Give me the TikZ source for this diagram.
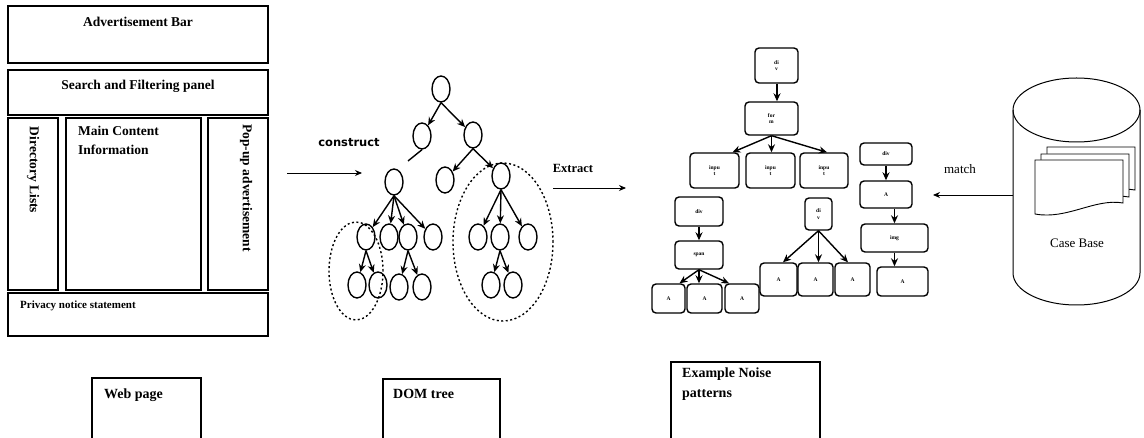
\documentclass[tikz,border=0pt]{standalone}
\usepackage{fontspec}
\setmainfont{Liberation Serif}
\newfontfamily\dvsans{DejaVu Sans}
\usetikzlibrary{arrows.meta,shapes.geometric,calc}
\tikzset{
 panel/.style={draw, line width=1.3pt, inner sep=0pt},
 lab/.style={font=\fontsize{13.5}{19}\selectfont\bfseries, inner sep=0pt},
 tn/.style={draw, ellipse, line width=1.4pt, minimum width=18pt, minimum height=26pt, inner sep=0pt},
 arr/.style={-{Stealth[length=8pt,width=7pt]}, line width=1.4pt},
 thinarr/.style={-{Stealth[length=7pt,width=6pt]}, line width=0.9pt},
 nb/.style={draw, rounded corners=4pt, line width=1.4pt, inner sep=0pt, align=center, font=\fontsize{5.5}{6.5}\selectfont\bfseries},
 grp/.style={draw, ellipse, dash pattern=on 2pt off 2.5pt, line width=1.4pt, inner sep=0pt},
 paper/.style={draw, fill=white, line width=0.9pt},
}
\newcommand{\drawpaper}[2]{%
 \draw[paper] (#1,#2) -- ++(88,0) -- ++(0,43) .. controls ($(#1,#2)+(60,38)$) and ($(#1,#2)+(32,60)$) .. ($(#1,#2)+(0,54)$) -- cycle;}
\begin{document}
\begin{tikzpicture}[x=1pt,y=-1pt]
\useasboundingbox (0,0) rectangle (1144,438);

% ---------------- Web page layout ----------------
\node[panel, minimum width=260pt, minimum height=57pt] (ad) at (138,34.5) {};
\node[lab] (adT) at (138,22) {Advertisement Bar};
\node[panel, minimum width=260pt, minimum height=45pt] (search) at (138,92.5) {};
\node[lab] (searchT) at (138,86) {Search and Filtering panel};
\node[panel, minimum width=50pt, minimum height=172pt] (dir) at (33,204) {};
\node[lab, rotate=-90] (dirT) at (33,170) {Directory Lists};
\node[panel, minimum width=135pt, minimum height=172pt] (main) at (133.5,204) {};
\node[lab, anchor=north west, align=left] (mainT) at (78,126) {Main Content\\Information};
\node[panel, minimum width=60pt, minimum height=172pt] (pop) at (238,204) {};
\node[lab, rotate=-90] (popT) at (246,188) {Pop-up advertisement};
\node[panel, minimum width=260pt, minimum height=43pt] (priv) at (138,314.5) {};
\node[lab, anchor=west, font=\fontsize{11}{12}\selectfont\bfseries] (privT) at (20,306) {Privacy notice statement};

% ---------------- construct arrow ----------------
\coordinate (cs) at (287,173);
\coordinate (ce) at (362,173);
\draw[thinarr] (cs) -- (ce);
\node[font=\dvsans\fontsize{11.5}{13}\selectfont\bfseries, inner sep=0pt] (constructT) at (349,143) {construct};

% ---------------- DOM tree ----------------
\node[tn] (r) at (441,89) {};
\node[tn] (a) at (422,136) {};
\node[tn] (b) at (473,135) {};
\node[tn] (c) at (394,182) {};
\node[tn] (d) at (445,180) {};
\node[tn] (e) at (501,176) {};
\node[tn] (c1) at (366,237) {};
\node[tn] (c2) at (389,237) {};
\node[tn] (c3) at (408,237) {};
\node[tn] (c4) at (433,237) {};
\node[tn] (c11) at (357,285) {};
\node[tn] (c12) at (378,285) {};
\node[tn] (c31) at (399,287) {};
\node[tn] (c32) at (422,287) {};
\node[tn] (e1) at (478,237) {};
\node[tn] (e2) at (500,237) {};
\node[tn] (e3) at (528,237) {};
\node[tn] (e21) at (491,285) {};
\node[tn] (e22) at (513,285) {};
\coordinate (brk) at (408,161);

\draw[arr] (r.south) -- (a);
\draw[arr] (r.south) -- (b);
\draw[line width=1.4pt] (a.south) -- (brk);
\draw[arr] (b.south) -- (d);
\draw[arr] (b.south) -- (e);
\foreach \k in {c1,c2,c3,c4} \draw[arr] (c.south) -- (\k);
\foreach \k in {c11,c12} \draw[arr] (c1.south) -- (\k);
\foreach \k in {c31,c32} \draw[arr] (c3.south) -- (\k);
\foreach \k in {e1,e2,e3} \draw[arr] (e.south) -- (\k);
\foreach \k in {e21,e22} \draw[arr] (e2.south) -- (\k);

\node[grp, minimum width=54pt, minimum height=98pt] (gl) at (356,271) {};
\node[grp, minimum width=100pt, minimum height=158pt] (gr) at (503,242) {};

% ---------------- Extract arrow ----------------
\coordinate (xs) at (553,188);
\coordinate (xe) at (626,188);
\draw[thinarr] (xs) -- (xe);
\node[lab, font=\fontsize{12.5}{14}\selectfont\bfseries] (extractT) at (573,168) {Extract};

% ---------------- Noise patterns ----------------
\node[nb, minimum width=43pt, minimum height=35pt] (top) at (776.5,65.5) {di\\v};
\node[nb, minimum width=53pt, minimum height=33pt] (form) at (771.5,118.5) {for\\m};
\node[nb, minimum width=49pt, minimum height=35pt] (in1) at (714.5,170.5) {inpu\\t};
\node[nb, minimum width=49pt, minimum height=35pt] (in2) at (770.5,170.5) {inpu\\t};
\node[nb, minimum width=48pt, minimum height=35pt] (in3) at (824,170.5) {inpu\\t};
\draw[arr] (top.south -| 777,0) -- (777,0 |- form.north);
\draw[arr] (form.south) -- ([xshift=18pt]in1.north);
\draw[arr] (form.south) -- (form.south |- in2.north);
\draw[arr] (form.south) -- ([xshift=3pt]in3.north);

\node[nb, minimum width=48pt, minimum height=29pt] (ldiv) at (699,211.5) {div};
\node[nb, minimum width=48pt, minimum height=28pt] (lspan) at (699,255) {span};
\node[nb, minimum width=33pt, minimum height=29pt] (la1) at (668.5,298.5) {A};
\node[nb, minimum width=35pt, minimum height=29pt] (la2) at (704.5,298.5) {A};
\node[nb, minimum width=34pt, minimum height=29pt] (la3) at (742,298.5) {A};
\draw[arr] (ldiv.south) -- (lspan.north);
\draw[arr] (lspan.south) -- ([xshift=11pt]la1.north);
\draw[arr] (lspan.south) -- (lspan.south |- la2.north);
\draw[arr] (lspan.south) -- ([xshift=-13pt]la3.north);

\node[nb, minimum width=27pt, minimum height=32pt] (mdiv) at (818.5,214) {di\\v};
\node[nb, minimum width=37pt, minimum height=33pt] (ma1) at (778.5,279.5) {A};
\node[nb, minimum width=35pt, minimum height=33pt] (ma2) at (815.5,279.5) {A};
\node[nb, minimum width=35pt, minimum height=33pt] (ma3) at (852.5,279.5) {A};
\draw[arr] (mdiv.south) -- ([xshift=4.5pt]ma1.north);
\draw[arr] (mdiv.south) -- (mdiv.south |- ma2.north);
\draw[arr] (mdiv.south) -- ([xshift=-4.5pt]ma3.north);

\node[nb, minimum width=52pt, minimum height=22pt] (rdiv) at (886,154) {div};
\node[nb, minimum width=52pt, minimum height=27pt] (ra) at (886,194.5) {A};
\node[nb, minimum width=67pt, minimum height=28pt] (rimg) at (894.5,238) {img};
\node[nb, minimum width=51pt, minimum height=29pt] (ra2) at (902.5,281.5) {A};
\draw[arr] (rdiv.south) -- (ra.north);
\draw[arr] (ra.south -| rimg.north) -- (rimg.north);
\draw[arr] (rimg.south) -- (rimg.south |- ra2.north);

% ---------------- Case base cylinder ----------------
\draw[line width=1pt] (1013,110) -- (1013,273) arc[start angle=180, end angle=360, x radius=63.5pt, y radius=32pt] -- (1140,110);
\draw[line width=1pt] (1076.5,110) ellipse [x radius=63.5pt, y radius=32pt];
\drawpaper{1047}{147}
\drawpaper{1041}{154}
\drawpaper{1035}{160}
\node[font=\fontsize{13}{15}\selectfont, inner sep=0pt] (caseT) at (1077,243) {Case Base};
\coordinate (cbL) at (1013,195);
\coordinate (me) at (933,195);
\draw[thinarr] (cbL) -- (me);
\node[font=\fontsize{13}{15}\selectfont, inner sep=0pt] (matchT) at (960,169) {match};

% ---------------- Legend boxes ----------------
\draw[line width=1.2pt] (92,438) -- (92,378) -- (201,378) -- (201,438);
\node[lab, anchor=north west, font=\fontsize{14}{20}\selectfont\bfseries] (webT) at (104,389) {Web page};
\draw[line width=1.2pt] (383,438) -- (383,379) -- (500,379) -- (500,438);
\node[lab, anchor=north west, font=\fontsize{14}{20}\selectfont\bfseries] (domT) at (393,389) {DOM tree};
\draw[line width=1.2pt] (671,438) -- (671,362) -- (820,362) -- (820,438);
\node[lab, anchor=north west, align=left, font=\fontsize{14}{20}\selectfont\bfseries] (exT) at (682,368) {Example Noise\\patterns};
\end{tikzpicture}
\end{document}
